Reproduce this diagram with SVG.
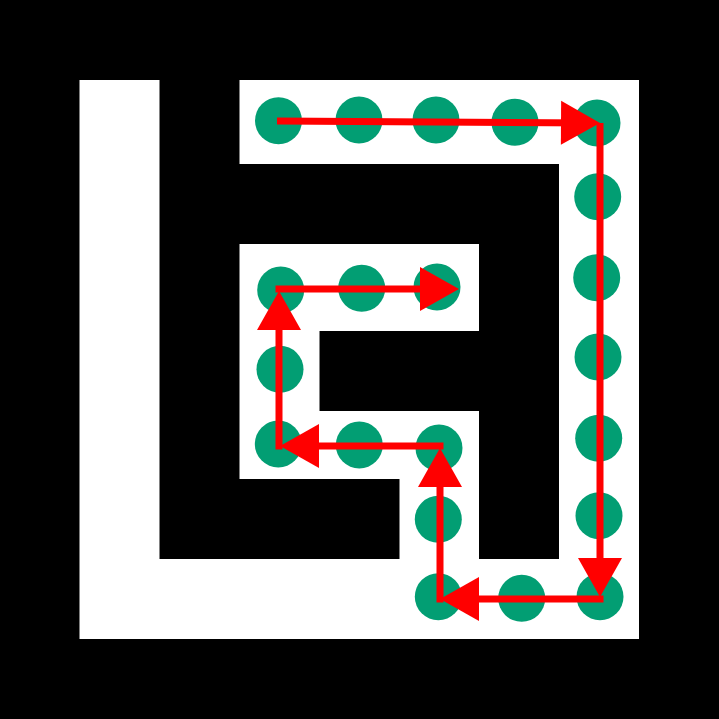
<svg xmlns="http://www.w3.org/2000/svg" width="719" height="719" viewBox="0 0 719 719">
<style>
.wall{fill:#000}
.floor{fill:#fff}
.node{fill:#029E73}
.edge{stroke:#FF0000;stroke-width:7;fill:none;stroke-linecap:butt;marker-end:url(#ah)}
</style>
<defs>
<marker id="ah" markerUnits="userSpaceOnUse" markerWidth="46" markerHeight="46" refX="32" refY="22" orient="auto" overflow="visible">
<path d="M0,0 L39,22 L0,44 Z" fill="#FF0000"/>
</marker>
</defs>
<rect x="0" y="0" width="719" height="719" class="wall"/>
<g id="maze">
<path class="floor" d="M79.5,80 H159.5 V559 H399.5 V479 H239.5 V244 H479 V331 H319.5 V411 H479 V559 H559 V164 H239.5 V80 H639 V639 H79.5 Z"/>
</g>
<g id="nodes">
<circle id="n1" cx="278.5" cy="120.7" r="23.5" class="node"/>
<circle id="n2" cx="359" cy="120" r="23.5" class="node"/>
<circle id="n3" cx="436" cy="120" r="23.5" class="node"/>
<circle id="n4" cx="515" cy="122.3" r="23.5" class="node"/>
<circle id="n5" cx="597" cy="123" r="23.5" class="node"/>
<circle id="n6" cx="597.7" cy="196.7" r="23.5" class="node"/>
<circle id="n7" cx="596.7" cy="277.7" r="23.5" class="node"/>
<circle id="n8" cx="598" cy="357" r="23.5" class="node"/>
<circle id="n9" cx="598.7" cy="438.3" r="23.5" class="node"/>
<circle id="n10" cx="599" cy="515.7" r="23.5" class="node"/>
<circle id="n11" cx="600" cy="596.7" r="23.5" class="node"/>
<circle id="n12" cx="521.7" cy="598.3" r="23.5" class="node"/>
<circle id="n13" cx="438.3" cy="596.7" r="23.5" class="node"/>
<circle id="n14" cx="438.3" cy="519.3" r="23.5" class="node"/>
<circle id="n15" cx="439" cy="448" r="23.5" class="node"/>
<circle id="n16" cx="359.3" cy="445" r="23.5" class="node"/>
<circle id="n17" cx="278.3" cy="444" r="23.5" class="node"/>
<circle id="n18" cx="280" cy="369.3" r="23.5" class="node"/>
<circle id="n19" cx="280.7" cy="290" r="23.5" class="node"/>
<circle id="n20" cx="361.7" cy="288.3" r="23.5" class="node"/>
<circle id="n21" cx="437" cy="287" r="23.5" class="node"/>
</g>
<g id="connectors">
<line x1="277" y1="121" x2="593" y2="122.9" class="edge"/>
<line x1="600" y1="123" x2="600" y2="590" class="edge"/>
<line x1="603.5" y1="599" x2="447" y2="599" class="edge"/>
<line x1="440" y1="602.5" x2="440" y2="455" class="edge"/>
<line x1="443.5" y1="446" x2="287" y2="446" class="edge"/>
<line x1="279" y1="449.5" x2="279" y2="298" class="edge"/>
<line x1="275.5" y1="289" x2="452" y2="289" class="edge"/>
</g>
</svg>
